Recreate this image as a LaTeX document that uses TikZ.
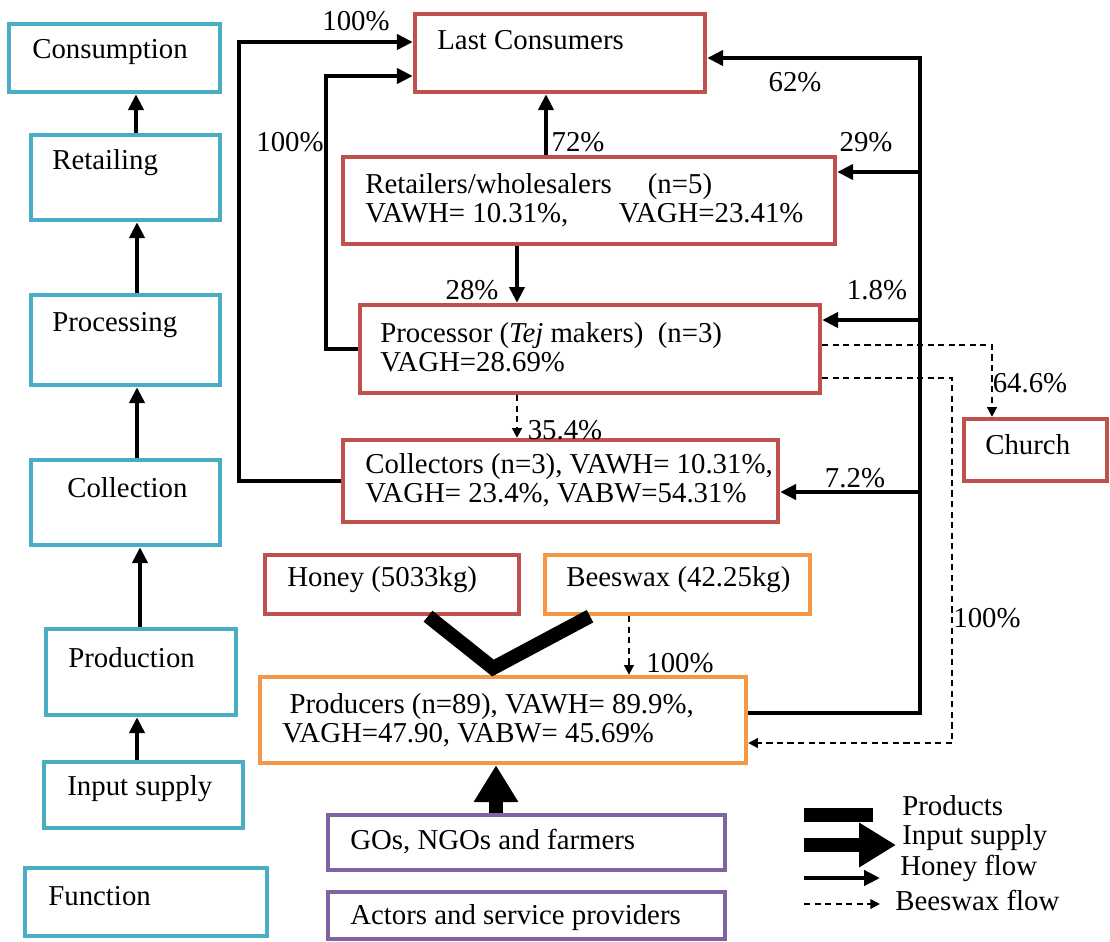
\documentclass[tikz,border=0pt]{standalone}
\usepackage{fontspec}
\setmainfont{Liberation Serif}
\usepackage{xcolor}
\definecolor{fnblue}{RGB}{75,172,198}
\definecolor{acred}{RGB}{192,80,77}
\definecolor{acorange}{RGB}{247,150,70}
\definecolor{acpurple}{RGB}{128,100,162}
\usepackage{tikz}
\usetikzlibrary{arrows.meta, positioning, fit}

\begin{document}
\begin{tikzpicture}[x=0.02cm, y=-0.02cm,
    box/.style={draw, line width=2.5pt, inner sep=0pt},
    txt/.style={anchor=west, inner sep=0pt, align=left, font=\fontsize{16.4}{16.5}\selectfont},
    pct/.style={inner sep=0pt, font=\fontsize{16.4}{16.5}\selectfont},
    flow/.style={line width=2.6pt, -{Triangle[length=9pt, width=8.5pt]}},
    wax/.style={line width=1.1pt, dash pattern=on 3.5pt off 2.5pt, -{Triangle[length=5.5pt, width=5.5pt]}},
    prodline/.style={line width=8pt},
    inflow/.style={line width=8.5pt, -{Triangle[length=21pt, width=24pt]}}]
  \useasboundingbox (0,0) rectangle (1110,941);

  % functions
  \node[box, draw=fnblue, fit={(9,24) (220,92)}] (cons) {};
  \node[box, draw=fnblue, fit={(31,135) (220,220)}] (retl) {};
  \node[box, draw=fnblue, fit={(31,295) (220,385)}] (prcs) {};
  \node[box, draw=fnblue, fit={(31,460) (220,545)}] (clln) {};
  \node[box, draw=fnblue, fit={(46,629) (236,715)}] (prdn) {};
  \node[box, draw=fnblue, fit={(44,762) (243,828)}] (inpt) {};
  \node[box, draw=fnblue, fit={(25,868) (267,936)}] (func) {};
  \node[txt] (consT) at (32,52) {Consumption};
  \node[txt] (retlT) at (52,163) {Retailing};
  \node[txt] (prcsT) at (52,325) {Processing};
  \node[txt] (cllnT) at (67,488) {Collection};
  \node[txt] (prdnT) at (68,658) {Production};
  \node[txt] (inptT) at (67,789) {Input supply};
  \node[txt] (funcT) at (48,896) {Function};
  \draw[flow] (inpt.north -| 137,0) -- (prdn.south -| 137,0);
  \draw[flow] (prdn.north -| 140,0) -- (clln.south -| 140,0);
  \draw[flow] (clln.north -| 137,0) -- (prcs.south -| 137,0);
  \draw[flow] (prcs.north -| 137,0) -- (retl.south -| 137,0);
  \draw[flow] (retl.north -| 136,0) -- (cons.south -| 136,0);

  % actors
  \node[box, draw=acred, fit={(415,14) (705,92)}] (lc) {};
  \node[box, draw=acred, fit={(343,157) (835,244)}] (ret) {};
  \node[box, draw=acred, fit={(360,305) (820,393)}] (proc) {};
  \node[box, draw=acred, fit={(343,440) (778,522)}] (coll) {};
  \node[box, draw=acred, fit={(964,419) (1107,481)}] (church) {};
  \node[box, draw=acred, fit={(265,555) (519,614)}] (honey) {};
  \node[box, draw=acorange, fit={(545,555) (810,614)}] (bw) {};
  \node[box, draw=acorange, fit={(260,677) (746,763)}] (prod) {};
  \node[box, draw=acpurple, fit={(328,815) (725,870)}] (gos) {};
  \node[box, draw=acpurple, fit={(328,892) (725,939)}] (act) {};
  \node[txt] (lcT) at (437,40) {Last Consumers};
  \node[txt] (retT) at (365,200) {Retailers/wholesalers\ \ \ \ \ (n=5)\\VAWH= 10.31\%,\ \ \ \ \ \ \ VAGH=23.41\%};
  \node[txt] (procT) at (380,347) {Processor (\textit{Tej} makers)\ \ (n=3)\\VAGH=28.69\%};
  \node[txt] (collT) at (365,480) {Collectors (n=3), VAWH= 10.31\%,\\VAGH= 23.4\%, VABW=54.31\%};
  \node[txt] (churchT) at (985,445) {Church};
  \node[txt] (honeyT) at (287,580) {Honey (5033kg)};
  \node[txt] (bwT) at (566,580) {Beeswax (42.25kg)};
  \node[txt] (prodT) at (282,720) {\ Producers (n=89), VAWH= 89.9\%,\\VAGH=47.90, VABW= 45.69\%};
  \node[txt] (gosT) at (350,842) {GOs, NGOs and farmers};
  \node[txt] (actT) at (350,918) {Actors and service providers};

  % honey flows
  \coordinate (trk) at (920,58);
  \draw[flow] (coll.west) -- ++(-102,0) |- (lc.west |- 0,42);
  \draw[flow] (proc.west) -- ++(-32,0) |- (lc.west |- 0,76);
  \draw[flow] (ret.north -| 546,0) -- (lc.south -| 546,0);
  \draw[flow] (ret.south -| 517,0) -- (proc.north -| 517,0);
  \draw[flow] (prod.east |- 0,713) -| (trk) -- (lc.east |- trk);
  \draw[flow] (trk |- 0,172) -- (ret.east |- 0,172);
  \draw[flow] (trk |- 0,320) -- (proc.east |- 0,320);
  \draw[flow] (trk |- 0,492) -- (coll.east |- 0,492);

  % beeswax flows
  \draw[wax] (proc.south -| 517,0) -- (coll.north -| 517,0);
  \draw[wax] (bw.south -| 629,0) -- (prod.north -| 629,0);
  \draw[wax] (proc.east |- 0,345) -| (church.north -| 992,0);
  \draw[wax] (proc.east |- 0,378) -- ++(130,0) |- (prod.east |- 0,743);

  % products and input supply
  \draw[prodline] (honey.south -| 428,0) -- (493,668) -- (bw.south -| 590,0);
  \draw[inflow] (gos.north -| 496,0) -- (prod.south -| 496,0);

  % shares
  \node[pct] (p1) at (356,21) {100\%};
  \node[pct] (p2) at (290,142) {100\%};
  \node[pct] (p3) at (578,142) {72\%};
  \node[pct] (p4) at (795,82) {62\%};
  \node[pct] (p5) at (866,142) {29\%};
  \node[pct] (p6) at (472,290) {28\%};
  \node[pct] (p7) at (877,290) {1.8\%};
  \node[pct] (p8) at (565,430) {35.4\%};
  \node[pct] (p9) at (1030,383) {64.6\%};
  \node[pct] (p10) at (855,478) {7.2\%};
  \node[pct] (p11) at (987,618) {100\%};
  \node[pct] (p12) at (680,663) {100\%};

  % legend
  \node[txt] (lgP) at (902,806) {Products};
  \node[txt] (lgI) at (902,838) {Input supply};
  \node[txt] (lgH) at (900,868) {Honey flow};
  \node[txt] (lgB) at (895,900) {Beeswax flow};
  \draw[prodline] (lgP.west) ++(-98,9) -- ++(69,0);
  \draw[inflow] (lgI.west) ++(-98,7) -- ++(92,0);
  \draw[flow] (lgH.west) ++(-96,10) -- ++(76,0);
  \draw[wax] (lgB.west) ++(-91,4) -- ++(76,0);
\end{tikzpicture}
\end{document}
